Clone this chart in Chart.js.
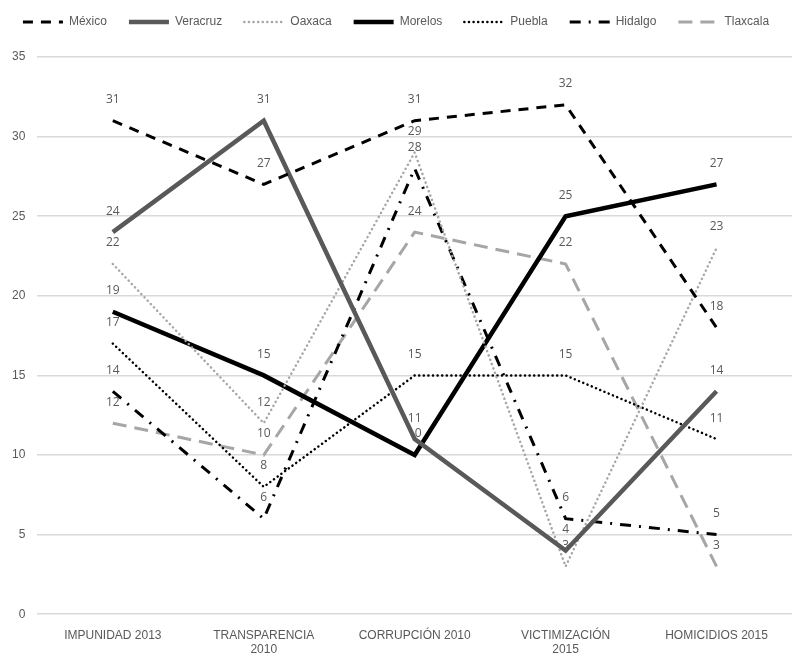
<!DOCTYPE html>
<html>
<head>
<meta charset="utf-8">
<script src="https://cdn.jsdelivr.net/npm/chart.js@4"></script>
<style>
  html, body { margin: 0; padding: 0; background: #fff; }
  #wrap { width: 796px; height: 656px; }
</style>
</head>
<body>
<div id="wrap"><canvas id="c" width="796" height="656"></canvas></div>
<script>
// Indicators (x axis)
const categories = [
  'IMPUNIDAD 2013',
  ['TRANSPARENCIA', '2010'],
  'CORRUPCIÓN 2010',
  ['VICTIMIZACIÓN', '2015'],
  'HOMICIDIOS 2015'
];

// Position of each state per indicator
const mexico   = [31, 27, 31, 32, 18];
const veracruz = [24, 31, 11, 4, 14];
const oaxaca   = [22, 12, 29, 3, 23];
const morelos  = [19, 15, 10, 25, 27];
const puebla   = [17, 8, 15, 15, 11];
const hidalgo  = [14, 6, 28, 6, 5];
const tlaxcala = [12, 10, 24, 22, 3];

const yTicks = [0, 5, 10, 15, 20, 25, 30, 35];

function series(label, data, color, width, dash, cap) {
  return {
    label, data,
    borderColor: color,
    backgroundColor: color,
    borderWidth: width,
    borderDash: dash,
    borderCapStyle: cap || 'butt',
    borderJoinStyle: 'miter',
    pointRadius: 0,
    pointHoverRadius: 0,
    pointStyle: 'line',
    tension: 0,
    fill: false
  };
}

// Value labels drawn above every point
const valueLabels = {
  id: 'valueLabels',
  afterDatasetsDraw(chart) {
    const ctx = chart.ctx;
    ctx.save();
    ctx.font = '12px "Open Sans", sans-serif';
    ctx.fillStyle = '#595959';
    ctx.textAlign = 'center';
    ctx.textBaseline = 'middle';
    chart.data.datasets.forEach((ds, i) => {
      const meta = chart.getDatasetMeta(i);
      meta.data.forEach((pt, j) => {
        ctx.fillText(String(ds.data[j]), pt.x, pt.y - 21);
      });
    });
    ctx.restore();
  }
};

// Extra room between the legend row and the plot
const legendGap = {
  id: 'legendGap',
  beforeLayout(chart) {
    const lg = chart.legend;
    if (lg && !lg._gapPatched) {
      const fit = lg.fit;
      lg.fit = function () { fit.call(this); this.height += 19; };
      lg._gapPatched = true;
    }
  }
};

new Chart(document.getElementById('c'), {
  type: 'line',
  data: {
    labels: categories,
    datasets: [
      series('México',   mexico,   '#000000', 3, [10, 8]),
      series('Veracruz', veracruz, '#595959', 4.5, []),
      series('Oaxaca',   oaxaca,   '#a6a6a6', 2.5, [0.1, 4.5], 'round'),
      series('Morelos',  morelos,  '#000000', 4.5, []),
      series('Puebla',   puebla,   '#000000', 2.5, [0.1, 4.5], 'round'),
      series('Hidalgo',  hidalgo,  '#000000', 3, [11, 8, 2, 8]),
      series('Tlaxcala', tlaxcala, '#a6a6a6', 3, [14, 8])
    ]
  },
  options: {
    responsive: false,
    animation: false,
    devicePixelRatio: 1,
    layout: { padding: { left: 0, right: 4, top: -6, bottom: -7 } },
    plugins: {
      legend: {
        position: 'top',
        align: 'center',
        labels: {
          usePointStyle: true,
          pointStyleWidth: 40,
          boxHeight: 12,
          padding: 22,
          color: '#595959',
          font: { family: '"Liberation Sans", Arial, sans-serif', size: 12 },
          generateLabels(chart) {
            const items = Chart.defaults.plugins.legend.labels.generateLabels(chart);
            items.forEach(it => {
              const ds = chart.data.datasets[it.datasetIndex];
              it.lineDash = ds.borderDash;
              it.lineWidth = ds.borderWidth;
              it.strokeStyle = ds.borderColor;
              it.fillStyle = ds.borderColor;
              it.lineCap = ds.borderCapStyle;
              it.pointStyle = 'line';
            });
            return items;
          }
        }
      },
      tooltip: { enabled: false }
    },
    scales: {
      x: {
        offset: true,
        grid: { display: false },
        border: { display: false },
        ticks: {
          color: '#595959',
          font: { family: '"Liberation Sans", Arial, sans-serif', size: 12 },
          maxRotation: 0,
          autoSkip: false,
          padding: 6
        }
      },
      y: {
        min: 0,
        max: 35,
        afterBuildTicks(axis) { axis.ticks = yTicks.map(v => ({ value: v })); },
        grid: { color: '#d9d9d9', lineWidth: 1.5, drawTicks: false },
        border: { display: false },
        ticks: {
          color: '#595959',
          font: { family: '"Liberation Sans", Arial, sans-serif', size: 12 },
          padding: 12
        }
      }
    }
  },
  plugins: [valueLabels, legendGap]
});
</script>
</body>
</html>
